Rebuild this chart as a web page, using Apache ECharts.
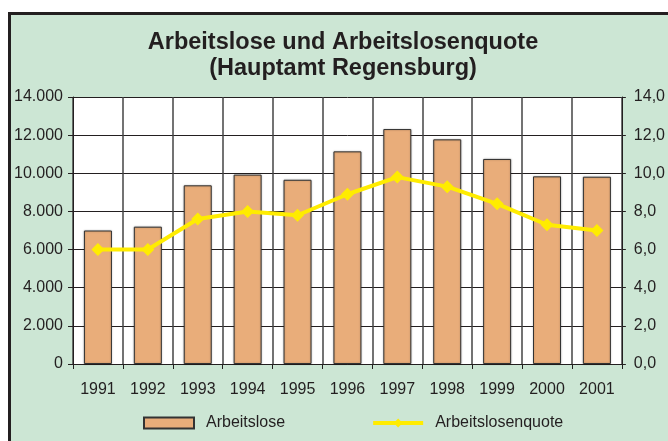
<!DOCTYPE html>
<html>
<head>
<meta charset="utf-8">
<script src="https://cdn.jsdelivr.net/npm/echarts@6/dist/echarts.min.js"></script>
<style>
  html, body { margin: 0; padding: 0; background: #fff; }
  #chart { width: 668px; height: 441px; }
</style>
</head>
<body>
<div id="chart"></div>
<script>
// Daten (Hauptamt Regensburg)
const jahre = ['1991', '1992', '1993', '1994', '1995', '1996', '1997', '1998', '1999', '2000', '2001'];
const arbeitslose = [7000, 7200, 9370, 9930, 9660, 11150, 12320, 11780, 10750, 9840, 9820];
const quote = [6.0, 6.0, 7.6, 8.0, 7.8, 8.9, 9.8, 9.3, 8.4, 7.3, 7.0];

const fmtTausend = v => String(v).replace(/\B(?=(\d{3})+(?!\d))/g, '.');
const fmtQuote = v => v.toFixed(1).replace('.', ',');

const textColor = '#231f20';
const font = 'Liberation Sans, Arial, sans-serif';

const chart = echarts.init(document.getElementById('chart'));
chart.setOption({
  animation: false,
  backgroundColor: '#fff',
  graphic: [{
    type: 'rect',
    z: -10,
    shape: { x: 9.5, y: 13.5, width: 700, height: 460 },
    style: { fill: '#cce6d4', stroke: textColor, lineWidth: 3 }
  }],
  title: {
    text: 'Arbeitslose und Arbeitslosenquote\n(Hauptamt Regensburg)',
    left: 343,
    textAlign: 'center',
    top: 30,
    padding: 0,
    textStyle: {
      fontFamily: font,
      fontSize: 23.5,
      fontWeight: 'bold',
      lineHeight: 26,
      color: textColor
    }
  },
  legend: {
    left: 143,
    top: 415,
    itemWidth: 50,
    itemHeight: 11,
    itemGap: 86,
    padding: 0,
    textStyle: {
      fontFamily: font,
      fontSize: 16,
      color: textColor,
      padding: [0, 0, 0, 7]
    },
    data: [
      { name: 'Arbeitslose', icon: 'rect' },
      { name: 'Arbeitslosenquote', lineStyle: { width: 4 } }
    ]
  },
  grid: {
    left: 73, right: 39, top: 97, bottom: 77,
    show: true,
    backgroundColor: '#fff',
    borderWidth: 0
  },
  xAxis: {
    type: 'category',
    data: jahre,
    axisLine: { lineStyle: { color: textColor, width: 1 } },
    axisTick: { show: true, length: 5, lineStyle: { color: textColor } },
    axisLabel: { fontFamily: font, fontSize: 16, color: textColor, margin: 18 },
    splitLine: { show: true, lineStyle: { color: '#444', width: 1.5 } }
  },
  yAxis: [{
    type: 'value',
    min: 0, max: 14000, interval: 2000,
    position: 'left',
    axisLine: { show: true, lineStyle: { color: textColor } },
    axisTick: { show: true, length: 5, lineStyle: { color: textColor } },
    axisLabel: { fontFamily: font, fontSize: 16, color: textColor, margin: 10, formatter: fmtTausend },
    splitLine: { show: true, lineStyle: { color: textColor, width: 1 } }
  }, {
    type: 'value',
    min: 0, max: 14, interval: 2,
    position: 'right',
    axisLine: { show: true, lineStyle: { color: textColor } },
    axisTick: { show: true, length: 4, lineStyle: { color: textColor } },
    axisLabel: { fontFamily: font, fontSize: 16, color: textColor, margin: 12, formatter: fmtQuote },
    splitLine: { show: false }
  }],
  series: [{
    name: 'Arbeitslose',
    type: 'bar',
    data: arbeitslose,
    barWidth: 28,
    itemStyle: {
      color: '#e9ad7a',
      borderColor: '#333',
      borderWidth: 1,
      shadowColor: 'rgba(0,0,0,0.25)',
      shadowBlur: 2
    }
  }, {
    name: 'Arbeitslosenquote',
    type: 'line',
    yAxisIndex: 1,
    data: quote,
    symbol: 'diamond',
    symbolSize: 13,
    lineStyle: { color: '#ffec00', width: 4 },
    itemStyle: { color: '#ffec00' }
  }]
});
</script>
</body>
</html>
